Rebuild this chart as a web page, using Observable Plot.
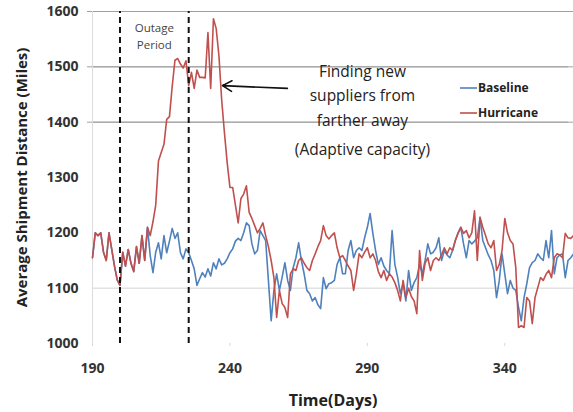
<!DOCTYPE html>
<html><head><meta charset="utf-8">
<script src="https://cdn.jsdelivr.net/npm/d3@7"></script>
<script src="https://cdn.jsdelivr.net/npm/@observablehq/plot@0.6"></script>
<style>
html,body{margin:0;padding:0;background:#fff;}
#chart svg{display:block;}
</style></head>
<body><div id="chart"></div>
<script>
const days = d3.range(190, 366);
const hurricane = [
1155,1200,1195,1200,1165,1150,1200,1170,1140,1115,
1105,1165,1140,1170,1145,1130,1175,1145,1195,1150,
1210,1195,1220,1250,1330,1345,1360,1405,1410,1465,
1512,1515,1505,1498,1511,1466,1490,1461,1494,1481,
1481,1480,1562,1461,1587,1569,1520,1440,1381,1327,
1282,1282,1250,1218,1262,1270,1285,1237,1226,1213,
1200,1208,1218,1195,1175,1150,1119,1047,1096,1072,
1065,1047,1126,1135,1132,1150,1155,1145,1137,1132,
1150,1162,1175,1186,1213,1195,1189,1195,1200,1173,
1155,1159,1150,1140,1132,1096,1126,1162,1155,1165,
1173,1155,1162,1150,1130,1119,1132,1114,1126,1120,
1110,1096,1077,1114,1083,1100,1085,1077,1054,1168,
1114,1145,1155,1132,1150,1155,1150,1160,1173,1162,
1173,1168,1186,1199,1210,1199,1204,1191,1200,1240,
1150,1228,1210,1195,1180,1173,1186,1132,1143,1168,
1226,1200,1186,1180,1137,1029,1032,1029,1083,1077,
1036,1083,1101,1119,1114,1125,1132,1119,1155,1162,
1160,1155,1199,1191,1190,1195];
const baseline = [
1155,1200,1195,1200,1165,1150,1200,1170,1140,1115,
1105,1165,1140,1170,1145,1130,1175,1145,1195,1150,
1210,1159,1128,1165,1182,1153,1195,1164,1185,1208,
1190,1200,1164,1153,1171,1164,1150,1135,1105,1117,
1128,1120,1135,1122,1146,1135,1153,1142,1145,1153,
1164,1171,1185,1190,1186,1200,1218,1213,1180,1162,
1168,1204,1195,1186,1114,1041,1096,1126,1096,1120,
1146,1114,1096,1137,1155,1182,1150,1126,1096,1090,
1077,1083,1070,1063,1119,1099,1108,1110,1114,1143,
1155,1126,1126,1168,1186,1155,1168,1173,1168,1191,
1210,1235,1199,1168,1143,1155,1140,1132,1126,1204,
1143,1120,1090,1108,1077,1132,1096,1110,1119,1143,
1126,1150,1180,1162,1165,1173,1191,1150,1168,1160,
1155,1168,1186,1200,1210,1180,1155,1186,1180,1185,
1191,1228,1186,1173,1160,1150,1132,1083,1114,1162,
1126,1090,1114,1100,1096,1065,1041,1083,1108,1137,
1146,1150,1162,1155,1150,1186,1155,1204,1126,1155,
1160,1162,1119,1150,1155,1162];
const xTicks = [190, 240, 290, 340];
const yTicks = [1000, 1100, 1200, 1300, 1400, 1500, 1600];
const darkGrid = [1400, 1500, 1600];
const lightGrid = [1100];
const outageDays = [200, 225];
const seriesNames = ["Baseline", "Hurricane"];
const seriesColors = ["#4f81bd", "#c0504d"];

const baseRows = days.map((d, i) => ({day: d, value: baseline[i]}));
const hurrRows = days.map((d, i) => ({day: d, value: hurricane[i]}));

const font = "'Open Sans', 'Liberation Sans', sans-serif";

const chart = Plot.plot({
  width: 573, height: 412,
  marginLeft: 92, marginRight: 0, marginTop: 11, marginBottom: 69,
  style: {fontFamily: font, background: "#fff", color: "#222"},
  x: {domain: [190, 365]},
  y: {domain: [1000, 1600]},
  marks: [
    Plot.gridY(darkGrid, {stroke: "#a0a0a0", strokeOpacity: 1, strokeWidth: 1}),
    Plot.gridY(lightGrid, {stroke: "#d4d4d4", strokeOpacity: 1, strokeWidth: 1}),
    Plot.tickY(darkGrid, {y: d => d, stroke: "#a0a0a0", dx: -5, clip: false}),
    Plot.ruleX([190], {stroke: "#dcdcdc"}),
    Plot.axisY(yTicks, {tickSize: 0, tickPadding: 14, fill: "#333",
      fontSize: 14, fontWeight: "bold", label: null, tickFormat: d => String(d)}),
    Plot.axisX(xTicks, {tickSize: 3, tickPadding: 17, stroke: "#d8d8d8", fill: "#333",
      fontSize: 14, fontWeight: "bold", label: null, tickFormat: d => String(d)}),
    Plot.line(baseRows, {x: "day", y: "value", stroke: seriesColors[0], strokeWidth: 1.6}),
    Plot.line(hurrRows, {x: "day", y: "value", stroke: seriesColors[1], strokeWidth: 1.6}),
    Plot.ruleX(outageDays, {y1: 1000, y2: 1600, stroke: "#111", strokeWidth: 2, strokeDasharray: "6,4"}),
    Plot.text(["Outage\nPeriod"], {x: 212.5, y: 1558, fontSize: 11.5, fill: "#444", lineHeight: 1.5}),
    Plot.text(["Finding new\nsuppliers from\nfarther away"], {x: 288.2, y: 1452, fontSize: 15.5, fill: "#222", lineHeight: 1.6}),
    Plot.text(["(Adaptive capacity)"], {x: 288.2, y: 1349, fontSize: 15.5, fill: "#222"}),
    Plot.arrow([0], {x1: 260.9, y1: 1461, x2: 237.3, y2: 1466, stroke: "#111", strokeWidth: 1.6, headLength: 10}),
    Plot.text(["Average Shipment Distance (Miles)"], {frameAnchor: "left", dx: -70, rotate: -90,
      textAnchor: "middle", lineAnchor: "middle", fontSize: 15, fontWeight: "bold", fill: "#222"}),
    Plot.text(["Time(Days)"], {frameAnchor: "bottom", dy: 57, lineAnchor: "middle", fontSize: 16, fontWeight: "bold", fill: "#222"})
  ]
});

// legend drawn in the svg (positioned in pixels)
const svg = d3.select(chart);
const leg = svg.append("g").attr("font-family", font).attr("font-size", 12)
  .attr("font-weight", "bold").attr("text-anchor", "start");
seriesNames.forEach((name, i) => {
  const y = 88 + i * 25;
  leg.append("line").attr("x1", 460).attr("x2", 477).attr("y1", y).attr("y2", y)
    .attr("stroke", seriesColors[i]).attr("stroke-width", 1.6);
  leg.append("text").attr("x", 478).attr("y", y).attr("dy", "0.35em").attr("fill", "#222").text(name);
});
document.getElementById("chart").appendChild(chart);
</script></body></html>
